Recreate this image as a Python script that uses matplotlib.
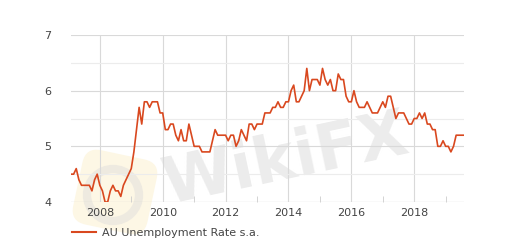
import numpy as np
import pandas as pd
import matplotlib
matplotlib.use("Agg")
import matplotlib.pyplot as plt
from matplotlib.ticker import MultipleLocator, FixedLocator
from matplotlib.patches import FancyBboxPatch, Circle
from matplotlib.transforms import Affine2D

# monthly values, Feb 2007 .. Aug 2019
y2007 = [4.5, 4.5, 4.6, 4.4, 4.3, 4.3, 4.3, 4.3, 4.2, 4.4, 4.5]
y2008 = [4.3, 4.2, 4.0, 4.0, 4.2, 4.3, 4.2, 4.2, 4.1, 4.3, 4.4, 4.5]
y2009 = [4.6, 4.9, 5.3, 5.7, 5.4, 5.8, 5.8, 5.7, 5.8, 5.8, 5.8, 5.6]
y2010 = [5.6, 5.3, 5.3, 5.4, 5.4, 5.2, 5.1, 5.3, 5.1, 5.1, 5.4, 5.2]
y2011 = [5.0, 5.0, 5.0, 4.9, 4.9, 4.9, 4.9, 5.1, 5.3, 5.2, 5.2, 5.2]
y2012 = [5.2, 5.1, 5.2, 5.2, 5.0, 5.1, 5.3, 5.2, 5.1, 5.4, 5.4, 5.3]
y2013 = [5.4, 5.4, 5.4, 5.6, 5.6, 5.6, 5.7, 5.7, 5.8, 5.7, 5.7, 5.8]
y2014 = [5.8, 6.0, 6.1, 5.8, 5.8, 5.9, 6.0, 6.4, 6.0, 6.2, 6.2, 6.2]
y2015 = [6.1, 6.4, 6.2, 6.1, 6.2, 6.0, 6.0, 6.3, 6.2, 6.2, 5.9, 5.8]
y2016 = [5.8, 6.0, 5.8, 5.7, 5.7, 5.7, 5.8, 5.7, 5.6, 5.6, 5.6, 5.7]
y2017 = [5.8, 5.7, 5.9, 5.9, 5.7, 5.5, 5.6, 5.6, 5.6, 5.5, 5.4, 5.4]
y2018 = [5.5, 5.5, 5.6, 5.5, 5.6, 5.4, 5.4, 5.3, 5.3, 5.0, 5.0, 5.1]
y2019 = [5.0, 5.0, 4.9, 5.0, 5.2, 5.2, 5.2, 5.2]

rate = (y2007 + y2008 + y2009 + y2010 + y2011 + y2012 + y2013 + y2014
        + y2015 + y2016 + y2017 + y2018 + y2019)
dates = pd.date_range("2007-02-01", periods=len(rate), freq="MS")
t = dates.year + (dates.month - 1) / 12.0

year_ticks = [2008, 2010, 2012, 2014, 2016, 2018]
year_labels = ["2008", "2010", "2012", "2014", "2016", "2018"]
series_name = "AU Unemployment Rate s.a."

line_col = "#d9481f"
txt_col = "#444444"

fig = plt.figure(figsize=(5.13, 2.46), dpi=100)
fig.set_facecolor("w")

# background layer in pixel coords for the watermark
bg = fig.add_axes([0, 0, 1, 1], zorder=0)
bg.set_xlim(0, 513)
bg.set_ylim(246, 0)
bg.axis("off")
rot = Affine2D().rotate_deg_around(115, 192, 12) + bg.transData
bg.add_patch(FancyBboxPatch((77, 154), 76, 76, boxstyle="round,pad=0,rounding_size=16",
                            fc="#fcf2d4", ec="none", alpha=0.6, transform=rot))
bg.add_patch(Circle((113, 195), 26, fc="none", ec="#e8e5df", lw=6, alpha=0.7))
bg.text(285, 160, "WikiFX", fontsize=46, fontweight="bold", color="#ececec",
        rotation=12, ha="center", va="center")

ax = fig.add_axes([71 / 513, 44 / 246, 393 / 513, 167 / 246], zorder=1)
ax.set_facecolor("none")

ax.plot(t, rate, color=line_col, lw=1.2, zorder=3)

ax.set_xlim(t[0], t[-1])
ax.set_ylim(4, 7)
ax.xaxis.set_major_locator(FixedLocator(year_ticks))
ax.set_xticklabels(year_labels)
ax.xaxis.set_minor_locator(FixedLocator([2009, 2011, 2013, 2015, 2017, 2019]))
ax.yaxis.set_major_locator(MultipleLocator(1))
ax.yaxis.set_minor_locator(MultipleLocator(0.5))

ax.grid(which="major", axis="both", color="#d9d9d9", lw=0.8)
ax.grid(which="minor", axis="y", color="#ececec", lw=0.8)
ax.set_axisbelow(True)
for s in ax.spines.values():
    s.set_visible(False)
ax.axhline(4, color="#cccccc", lw=0.8, zorder=1)

ax.tick_params(axis="both", which="major", length=0, labelsize=8, labelcolor=txt_col)
ax.tick_params(axis="x", which="major", pad=4)
ax.tick_params(axis="y", which="major", pad=14)
ax.tick_params(axis="x", which="minor", direction="in", length=4, color="#cccccc")
ax.tick_params(axis="y", which="minor", length=0)
for lbl in ax.get_yticklabels():
    lbl.set_horizontalalignment("right")

ax.legend([plt.Line2D([], [], color=line_col, lw=1.5)], [series_name],
          loc="upper left", bbox_to_anchor=(-0.01, -0.13), frameon=False,
          fontsize=8, labelcolor=txt_col, handlelength=2.2, handletextpad=0.5,
          borderaxespad=0)

fig.savefig("out.png", dpi=100, facecolor="w")
